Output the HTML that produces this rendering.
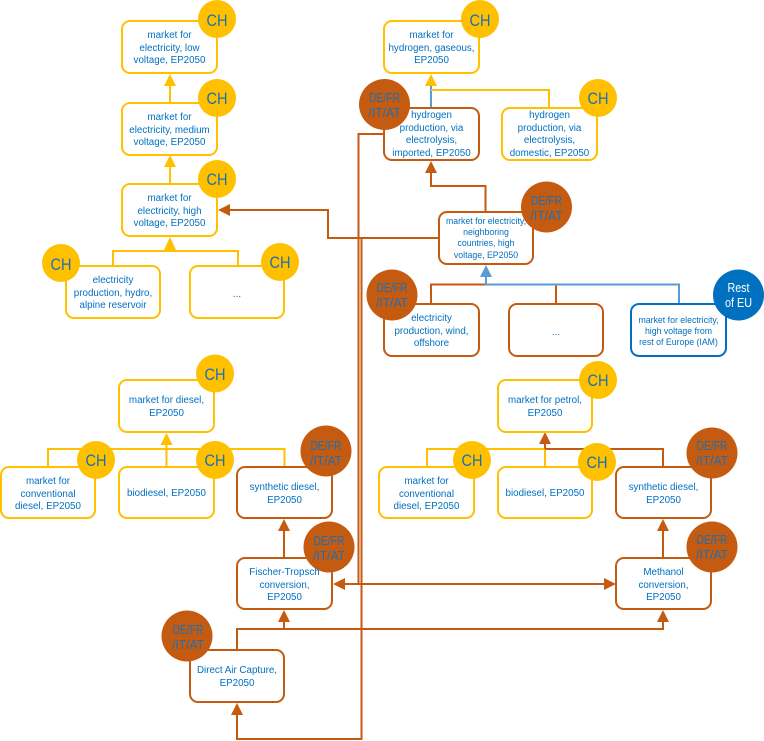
<!DOCTYPE html>
<html><head><meta charset="utf-8"><style>
html,body{margin:0;padding:0;background:#fff}
svg{display:block}
text{font-family:"Liberation Sans",sans-serif;font-size:9.8px;fill:#0070C0;text-anchor:middle}
.s{font-size:8.75px}
.c{font-size:16.5px;fill:#1B6FB5}
.d{font-size:12.5px;fill:#1B6FB5}
.w{font-size:12.5px;fill:#fff}
.y{fill:#fff;stroke:#FFC000;stroke-width:2}
.o{fill:#fff;stroke:#C55A11;stroke-width:2}
.b{fill:#fff;stroke:#0070C0;stroke-width:2}
.ly{fill:none;stroke:#FFC000;stroke-width:2}
.lo{fill:none;stroke:#C55A11;stroke-width:2}
.lb{fill:none;stroke:#5B9BD5;stroke-width:2}
.hy{fill:#FFC000}.ho{fill:#C55A11}.hb{fill:#5B9BD5}
</style></head><body>
<svg width="764" height="741" viewBox="0 0 764 741" xmlns="http://www.w3.org/2000/svg">
<!-- connectors -->
<path class="ly" d="M170 103V84M170 184V165M113 266V251H238V266"/>
<path class="hy" d="M170 74l6 12h-12zM170 155l6 12h-12zM170 237l6 13h-12z"/>
<path class="lb" d="M431 108V84"/>
<path class="ly" d="M431 90H549V108"/>
<path class="hy" d="M431 74l6 12h-12z"/>
<path class="lo" d="M485.500 212V186H431V170"/>
<path class="ho" d="M431 161l6 12h-12z"/>
<path class="lo" d="M431 304V284.500H486M556 304V284.500H486"/>
<path class="lb" d="M679 304V284.500H486V275"/>
<path class="hb" d="M486 265l6 12h-12z"/>
<path class="lo" d="M439 238H328V210H228"/>
<path class="ho" d="M218 210l12-6v12z"/>
<path class="lo" d="M439 238H361.500V739H237V712"/>
<path class="ho" d="M237 703l6 12h-12z"/>
<path class="lo" d="M384 134H358.500V584"/>
<path class="lo" d="M343 584H606"/>
<path class="ho" d="M333 584l12-6v12zM616 584l-12-6v12z"/>
<path class="lo" d="M284 558V528M663 558V528"/>
<path class="ho" d="M284 519l6 12h-12zM663 519l6 12h-12z"/>
<path class="lo" d="M237 650V629H663V620M284 629V620"/>
<path class="ho" d="M284 610l6 12h-12zM663 610l6 12h-12z"/>
<path class="ly" d="M166.500 467V442M48 467V449H284.500V467"/>
<path class="hy" d="M166.500 433l6 12h-12z"/>
<path class="ly" d="M427 467V449H545M545 467V449"/>
<path class="lo" d="M545 449V442M545 449H663V467"/>
<path class="ho" d="M545 432l6 12h-12z"/>
<!-- boxes -->
<rect class="y" x="122" y="21" width="95" height="52" rx="8"/>
<rect class="y" x="122" y="103" width="95" height="52" rx="8"/>
<rect class="y" x="122" y="184" width="95" height="52" rx="8"/>
<rect class="y" x="66" y="266" width="94" height="52" rx="8"/>
<rect class="y" x="190" y="266" width="94" height="52" rx="8"/>
<rect class="y" x="384" y="21" width="95" height="52" rx="8"/>
<rect class="o" x="384" y="108" width="95" height="52" rx="8"/>
<rect class="y" x="502" y="108" width="95" height="52" rx="8"/>
<rect class="o" x="439" y="212" width="94" height="52" rx="8"/>
<rect class="o" x="384" y="304" width="95" height="52" rx="8"/>
<rect class="o" x="509" y="304" width="94" height="52" rx="8"/>
<rect class="b" x="631" y="304" width="95" height="52" rx="8"/>
<rect class="y" x="119" y="380" width="95" height="52" rx="8"/>
<rect class="y" x="1" y="467" width="94" height="51" rx="8"/>
<rect class="y" x="119" y="467" width="95" height="51" rx="8"/>
<rect class="o" x="237" y="467" width="95" height="51" rx="8"/>
<rect class="o" x="237" y="558" width="95" height="51" rx="8"/>
<rect class="o" x="190" y="650" width="94" height="52" rx="8"/>
<rect class="y" x="498" y="380" width="94" height="52" rx="8"/>
<rect class="y" x="379" y="467" width="95" height="51" rx="8"/>
<rect class="y" x="498" y="467" width="94" height="51" rx="8"/>
<rect class="o" x="616" y="467" width="95" height="51" rx="8"/>
<rect class="o" x="616" y="558" width="95" height="51" rx="8"/>
<!-- circles -->
<g fill="#FFC000">
<circle cx="217" cy="19" r="19"/><circle cx="217" cy="98" r="19"/><circle cx="217" cy="179" r="19"/>
<circle cx="61" cy="263" r="19"/><circle cx="280" cy="262" r="19"/>
<circle cx="480" cy="19" r="19"/><circle cx="598" cy="98" r="19"/>
<circle cx="215" cy="373.500" r="19"/><circle cx="96" cy="460" r="19"/><circle cx="215" cy="460" r="19"/>
<circle cx="598" cy="380" r="19"/><circle cx="472" cy="460" r="19"/><circle cx="597" cy="462" r="19"/>
</g>
<g fill="#C55A11">
<circle cx="384.500" cy="104.500" r="25.500"/><circle cx="546.500" cy="207" r="25.500"/><circle cx="392" cy="295" r="25.500"/>
<circle cx="326" cy="451" r="25.500"/><circle cx="329" cy="547" r="25.500"/><circle cx="187" cy="636" r="25.500"/>
<circle cx="712" cy="453" r="25.500"/><circle cx="712" cy="547" r="25.500"/>
</g>
<circle cx="738.500" cy="295" r="25.500" fill="#0070C0"/>
<!-- box text -->
<text x="169.500" y="38">market for</text><text x="169.500" y="51">electricity, low</text><text x="169.500" y="63">voltage, EP2050</text>
<text x="169.500" y="120">market for</text><text x="169.500" y="133">electricity, medium</text><text x="169.500" y="145">voltage, EP2050</text>
<text x="169.500" y="201">market for</text><text x="169.500" y="214">electricity, high</text><text x="169.500" y="226">voltage, EP2050</text>
<text x="113" y="283">electricity</text><text x="113" y="296">production, hydro,</text><text x="113" y="308">alpine reservoir</text>
<text x="237" y="297">...</text>
<text x="431.500" y="38">market for</text><text x="431.500" y="51">hydrogen, gaseous,</text><text x="431.500" y="63">EP2050</text>
<text x="431.500" y="118">hydrogen</text><text x="431.500" y="131">production, via</text><text x="431.500" y="143">electrolysis,</text><text x="431.500" y="156">imported, EP2050</text>
<text x="549.500" y="118">hydrogen</text><text x="549.500" y="131">production, via</text><text x="549.500" y="143">electrolysis,</text><text x="549.500" y="156">domestic, EP2050</text>
<text class="s" x="486" y="224">market for electricity,</text><text class="s" x="486" y="235">neighboring</text><text class="s" x="486" y="246">countries, high</text><text class="s" x="486" y="258">voltage, EP2050</text>
<text x="431.500" y="321">electricity</text><text x="431.500" y="334">production, wind,</text><text x="431.500" y="346">offshore</text>
<text x="556" y="335">...</text>
<text class="s" x="678.500" y="323">market for electricity,</text><text class="s" x="678.500" y="334">high voltage from</text><text class="s" x="678.500" y="345">rest of Europe (IAM)</text>
<text x="166.500" y="403">market for diesel,</text><text x="166.500" y="416">EP2050</text>
<text x="48" y="484">market for</text><text x="48" y="497">conventional</text><text x="48" y="509">diesel, EP2050</text>
<text x="166.500" y="496">biodiesel, EP2050</text>
<text x="284.500" y="490">synthetic diesel,</text><text x="284.500" y="503">EP2050</text>
<text x="284.500" y="575">Fischer-Tropsch</text><text x="284.500" y="588">conversion,</text><text x="284.500" y="600">EP2050</text>
<text x="237" y="673">Direct Air Capture,</text><text x="237" y="686">EP2050</text>
<text x="545" y="403">market for petrol,</text><text x="545" y="416">EP2050</text>
<text x="426.500" y="484">market for</text><text x="426.500" y="497">conventional</text><text x="426.500" y="509">diesel, EP2050</text>
<text x="545" y="496">biodiesel, EP2050</text>
<text x="663.500" y="490">synthetic diesel,</text><text x="663.500" y="503">EP2050</text>
<text x="663.500" y="575">Methanol</text><text x="663.500" y="588">conversion,</text><text x="663.500" y="600">EP2050</text>
<!-- circle labels -->
<text class="c" textLength="21" lengthAdjust="spacingAndGlyphs" x="217" y="26">CH</text><text class="c" textLength="21" lengthAdjust="spacingAndGlyphs" x="217" y="104">CH</text><text class="c" textLength="21" lengthAdjust="spacingAndGlyphs" x="217" y="185">CH</text>
<text class="c" textLength="21" lengthAdjust="spacingAndGlyphs" x="61" y="270">CH</text><text class="c" textLength="21" lengthAdjust="spacingAndGlyphs" x="280" y="268">CH</text>
<text class="c" textLength="21" lengthAdjust="spacingAndGlyphs" x="480" y="26">CH</text><text class="c" textLength="21" lengthAdjust="spacingAndGlyphs" x="598" y="104">CH</text>
<text class="c" textLength="21" lengthAdjust="spacingAndGlyphs" x="215" y="380">CH</text><text class="c" textLength="21" lengthAdjust="spacingAndGlyphs" x="96" y="466">CH</text><text class="c" textLength="21" lengthAdjust="spacingAndGlyphs" x="215" y="466">CH</text>
<text class="c" textLength="21" lengthAdjust="spacingAndGlyphs" x="598" y="386">CH</text><text class="c" textLength="21" lengthAdjust="spacingAndGlyphs" x="472" y="466">CH</text><text class="c" textLength="21" lengthAdjust="spacingAndGlyphs" x="597" y="468">CH</text>
<text class="d" textLength="31" lengthAdjust="spacingAndGlyphs" x="384.500" y="102">DE/FR</text><text class="d" textLength="32" lengthAdjust="spacingAndGlyphs" x="384.500" y="117">/IT/AT</text>
<text class="d" textLength="31" lengthAdjust="spacingAndGlyphs" x="546.500" y="205">DE/FR</text><text class="d" textLength="32" lengthAdjust="spacingAndGlyphs" x="546.500" y="220">/IT/AT</text>
<text class="d" textLength="31" lengthAdjust="spacingAndGlyphs" x="392" y="292">DE/FR</text><text class="d" textLength="32" lengthAdjust="spacingAndGlyphs" x="392" y="307">/IT/AT</text>
<text class="d" textLength="31" lengthAdjust="spacingAndGlyphs" x="326" y="450">DE/FR</text><text class="d" textLength="32" lengthAdjust="spacingAndGlyphs" x="326" y="465">/IT/AT</text>
<text class="d" textLength="31" lengthAdjust="spacingAndGlyphs" x="329" y="545">DE/FR</text><text class="d" textLength="32" lengthAdjust="spacingAndGlyphs" x="329" y="560">/IT/AT</text>
<text class="d" textLength="31" lengthAdjust="spacingAndGlyphs" x="188" y="634">DE/FR</text><text class="d" textLength="32" lengthAdjust="spacingAndGlyphs" x="188" y="649">/IT/AT</text>
<text class="d" textLength="31" lengthAdjust="spacingAndGlyphs" x="712" y="450">DE/FR</text><text class="d" textLength="32" lengthAdjust="spacingAndGlyphs" x="712" y="465">/IT/AT</text>
<text class="d" textLength="31" lengthAdjust="spacingAndGlyphs" x="712" y="544">DE/FR</text><text class="d" textLength="32" lengthAdjust="spacingAndGlyphs" x="712" y="559">/IT/AT</text>
<text class="w" textLength="22" lengthAdjust="spacingAndGlyphs" x="738.500" y="292">Rest</text><text class="w" textLength="27" lengthAdjust="spacingAndGlyphs" x="738.500" y="307">of EU</text>
</svg>
</body></html>
